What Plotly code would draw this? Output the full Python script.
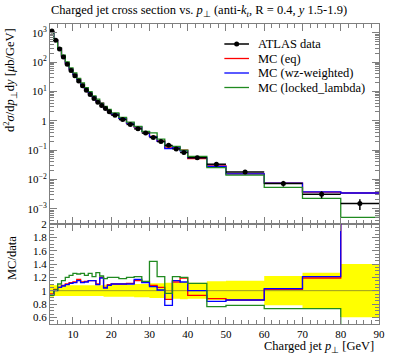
import plotly.graph_objects as go
import numpy as np

# ---- data ----
bin_edges = [4, 5, 6, 7, 8, 9, 10, 11, 12, 13, 14, 15, 16, 17, 18, 19, 20,
             22, 24, 26, 28, 30, 32, 34, 36, 38, 40, 45, 50, 60, 70, 80, 90]
data_vals = [1150, 560, 280, 150, 85, 52, 34, 22.5, 15.5, 11, 7.8, 5.8, 4.3, 3.3, 2.6, 2.05,
             1.55, 1.1, 0.75, 0.53, 0.38, 0.27, 0.195, 0.145, 0.11, 0.083,
             0.055, 0.033, 0.018, 0.0073, 0.0031, 0.0015]
data_relerr = [0.09, 0.08, 0.08, 0.08, 0.08, 0.08, 0.08, 0.08, 0.08, 0.08, 0.08, 0.08, 0.08, 0.08, 0.09, 0.09,
               0.09, 0.09, 0.09, 0.10, 0.10, 0.11, 0.11, 0.12, 0.12, 0.13,
               0.12, 0.14, 0.15, 0.22, 0.27, 0.40]
ratio_eq = [0.95, 1.02, 1.05, 1.08, 1.10, 1.12, 1.13, 1.17, 1.13, 1.14, 1.15, 1.15, 1.10, 1.20, 1.05, 1.09,
            1.10, 1.10, 1.11, 1.15, 1.13, 1.08, 1.05, 0.87, 1.13, 1.19,
            0.93, 0.88, 0.86, 1.02, 1.19, 2.3]
ratio_wz = [0.94, 1.00, 1.05, 1.07, 1.09, 1.11, 1.12, 1.15, 1.12, 1.13, 1.15, 1.15, 1.09, 1.19, 1.04, 1.08,
            1.10, 1.10, 1.10, 1.17, 1.12, 1.06, 1.01, 0.78, 1.15, 1.13,
            1.00, 0.84, 0.86, 1.03, 1.21, 2.3]
ratio_locked = [0.93, 1.01, 1.10, 1.15, 1.20, 1.23, 1.26, 1.25, 1.26, 1.23, 1.26, 1.21, 1.27, 1.22, 1.18, 1.20,
                1.20, 1.18, 1.20, 1.21, 1.14, 1.44, 1.21, 0.96, 1.21, 1.20,
                1.11, 0.76, 0.78, 0.73, 0.73, 0.34]
legend_names = ["ATLAS data", "MC (eq)", "MC (wz-weighted)", "MC (locked_lambda)"]
legend_colors = ["black", "#ff0000", "#0000ff", "#208a20"]
main_ytick_vals = [1e-3, 1e-2, 1e-1, 1, 10, 100, 1000]
main_ytick_text = ["10<sup>−3</sup>", "10<sup>−2</sup>", "10<sup>−1</sup>", "1",
                   "10<sup>1</sup>", "10<sup>2</sup>", "10<sup>3</sup>"]
ratio_ytick_vals = [0.6, 0.8, 1.0, 1.2, 1.4, 1.6, 1.8, 2.0]
ratio_ytick_text = ["0.6", "0.8", "1", "1.2", "1.4", "1.6", "1.8", "2"]
xtick_vals = [10, 20, 30, 40, 50, 60, 70, 80, 90]

edges = np.array(bin_edges, dtype=float)
centers = 0.5 * (edges[:-1] + edges[1:])
halfw = 0.5 * (edges[1:] - edges[:-1])
dv = np.array(data_vals)
err = np.array(data_relerr)

FONT = "Liberation Serif"
GRAY = "#7f7f7f"

fig = go.Figure()

def step(vals):
    v = list(vals)
    return v + [v[-1]]

mcs = [(legend_names[1], ratio_eq, legend_colors[1]),
       (legend_names[2], ratio_wz, legend_colors[2]),
       (legend_names[3], ratio_locked, legend_colors[3])]

# yellow band in ratio
fig.add_trace(go.Scatter(x=edges, y=step(1 - err), mode="lines", line=dict(width=0, shape="hv", color="yellow"),
                         showlegend=False, xaxis="x2", yaxis="y2", hoverinfo="skip"))
fig.add_trace(go.Scatter(x=edges, y=step(1 + err), mode="lines", line=dict(width=0, shape="hv", color="yellow"),
                         fill="tonexty", fillcolor="#ffff00", showlegend=False, xaxis="x2", yaxis="y2",
                         hoverinfo="skip"))
# line at 1
fig.add_trace(go.Scatter(x=[bin_edges[0], 90], y=[1, 1], mode="lines", line=dict(width=1, color="rgba(90,90,60,0.6)"),
                         showlegend=False, xaxis="x2", yaxis="y2", hoverinfo="skip"))

for name, r, col in mcs:
    mc = dv * np.array(r)
    fig.add_trace(go.Scatter(x=edges, y=step(mc), mode="lines", name=name, showlegend=False,
                             line=dict(color=col, width=1.3, shape="hv")))
    fig.add_trace(go.Scatter(x=edges, y=step(r), mode="lines", showlegend=False,
                             line=dict(color=col, width=1.3, shape="hv"), xaxis="x2", yaxis="y2"))

# data points
fig.add_trace(go.Scatter(x=centers, y=dv, mode="markers", showlegend=False, name=legend_names[0],
                         marker=dict(color="black", size=5),
                         error_x=dict(type="data", array=halfw, color="black", thickness=1.5, width=0),
                         error_y=dict(type="data", array=dv * err, color="black", thickness=1.5, width=0)))

# minor ticks for log axis
log_minor = [m * 10.0 ** e for e in range(-4, 4) for m in range(2, 10)]

axis_common = dict(showline=True, linecolor=GRAY, linewidth=1, mirror="allticks",
                   ticks="inside", tickcolor=GRAY, showgrid=False, zeroline=False,
                   tickfont=dict(family=FONT, size=11, color="black"))

fig.update_layout(
    width=397, height=358,
    margin=dict(l=50, r=13, t=24, b=34),
    paper_bgcolor="white", plot_bgcolor="white",
    font=dict(family=FONT, size=12, color="black"),
    showlegend=False,
    xaxis=dict(domain=[0, 1], range=[4, 90], anchor="y", showticklabels=False,
               tickvals=xtick_vals, ticklen=7,
               minor=dict(ticks="inside", dtick=2, tick0=0, ticklen=4, tickcolor=GRAY),
               **axis_common),
    yaxis=dict(domain=[1/3, 1], type="log", range=[-3.52, 3.3], anchor="x",
               tickvals=main_ytick_vals, ticktext=main_ytick_text, ticklen=7,
               minor=dict(ticks="inside", tickmode="array", tickvals=log_minor, ticklen=4, tickcolor=GRAY),
               **axis_common),
    xaxis2=dict(domain=[0, 1], range=[4, 90], anchor="y2",
                tickvals=xtick_vals, ticklen=7,
                minor=dict(ticks="inside", dtick=2, tick0=0, ticklen=4, tickcolor=GRAY),
                **axis_common),
    yaxis2=dict(domain=[0, 1/3], range=[0.5, 2.0], anchor="x2",
                tickvals=ratio_ytick_vals, ticktext=ratio_ytick_text, ticklen=7,
                minor=dict(ticks="inside", dtick=0.05, tick0=0, ticklen=4, tickcolor=GRAY),
                **axis_common),
)

# manual legend (paper coords: plot area 50..384 px wide, 24..324 px tall)
def px_x(px):
    return (px - 50) / 334.0

def px_y(py):
    return (324 - py) / 300.0

legend_rows_py = [44, 58.5, 73, 87.5]
for name, col, py in zip(legend_names, legend_colors, legend_rows_py):
    w = 1.5 if col == "black" else 1.3
    fig.add_shape(type="line", xref="paper", yref="paper", x0=px_x(227), x1=px_x(252),
                  y0=px_y(py), y1=px_y(py), line=dict(color=col, width=w))
    fig.add_annotation(text=name, xref="paper", yref="paper", x=px_x(259), y=px_y(py),
                       xanchor="left", yanchor="middle", showarrow=False,
                       font=dict(family=FONT, size=12.5, color="black"))
fig.add_shape(type="circle", xref="paper", yref="paper", xsizemode="pixel", ysizemode="pixel",
              xanchor=px_x(239.5), yanchor=px_y(legend_rows_py[0]), x0=-2.5, x1=2.5, y0=-2.5, y1=2.5,
              fillcolor="black", line=dict(color="black", width=0))

fig.add_annotation(text="Charged jet cross section vs. <i>p</i><sub>⊥</sub> (anti-<i>k</i><sub><i>t</i></sub>, R = 0.4, <i>y</i> 1.5-1.9)",
                   xref="paper", yref="paper", x=0, y=1.0, xanchor="left", yanchor="bottom",
                   xshift=-1, yshift=3, showarrow=False, font=dict(family=FONT, size=12.5))
fig.add_annotation(text="d<sup>2</sup><i>σ</i>/d<i>p</i><sub>⊥</sub>d<i>y</i> [<i>μ</i>b/GeV]",
                   xref="paper", yref="paper", x=0, y=1.0, xanchor="right", yanchor="top",
                   xshift=-29, yshift=-2, textangle=-90, showarrow=False, font=dict(family=FONT, size=12.5))
fig.add_annotation(text="MC/data",
                   xref="paper", yref="paper", x=0, y=0.30, xanchor="right", yanchor="top",
                   xshift=-29, textangle=-90, showarrow=False, font=dict(family=FONT, size=12.5))
fig.add_annotation(text="Charged jet <i>p</i><sub>⊥</sub> [GeV]",
                   xref="paper", yref="paper", x=1.0, y=0, xanchor="right", yanchor="middle",
                   xshift=-3, yshift=-23, showarrow=False, font=dict(family=FONT, size=12.5))

fig.write_html("out.html", config={"displayModeBar": False},
               post_script="document.body.style.margin='0';document.body.style.overflow='hidden';")
